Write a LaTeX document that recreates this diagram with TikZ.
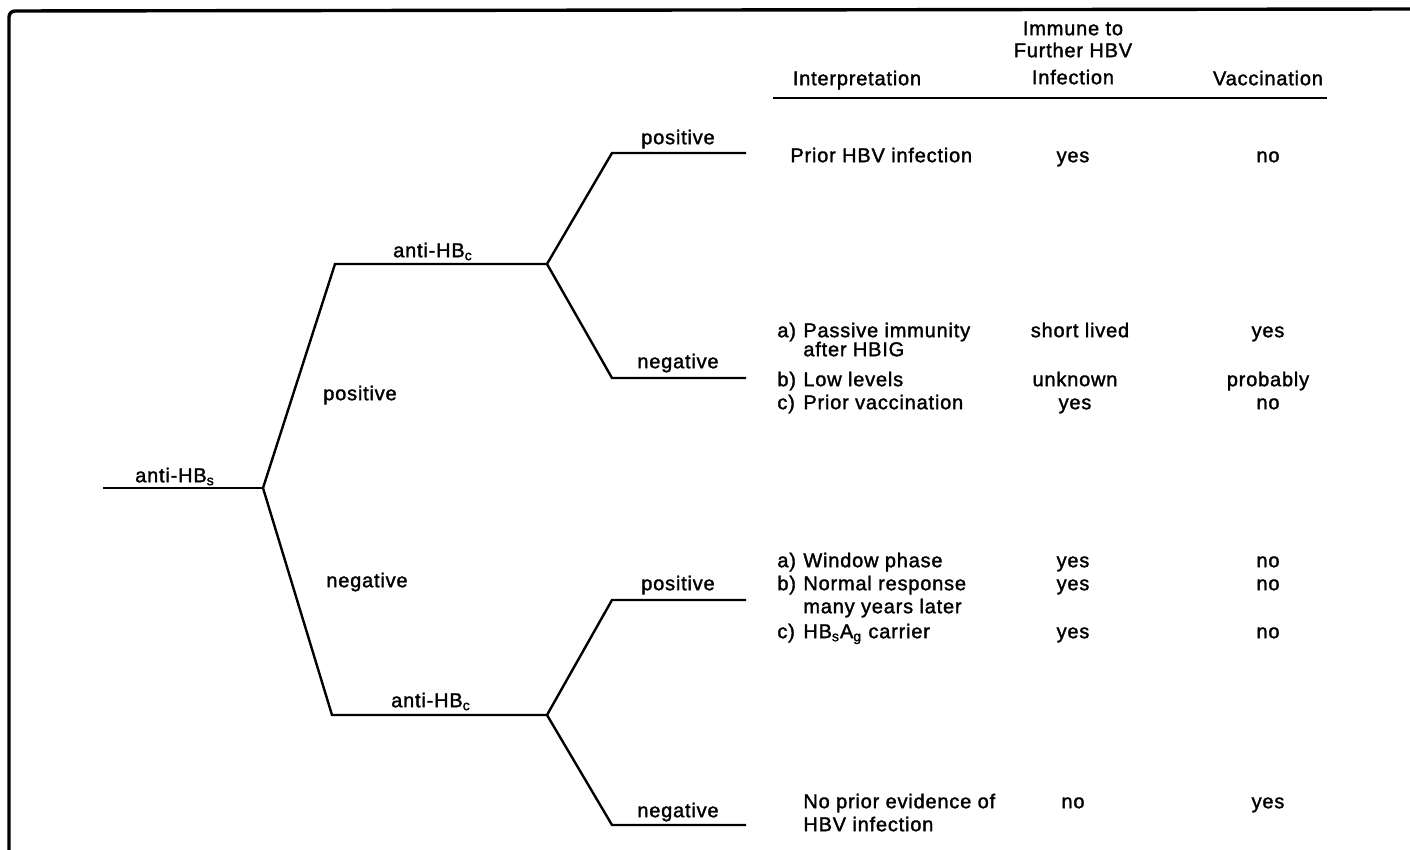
\documentclass[tikz,border=0pt]{standalone}
\usepackage{fontspec}
\setmainfont[LetterSpace=4,FakeBold=1.6]{Liberation Sans}
\begin{document}
\begin{tikzpicture}[x=0.5pt,y=-0.5pt,
  tree/.style={line width=1.2pt,line join=miter},
  lab/.style={inner sep=0pt,text height=7.2pt,text depth=0pt,font=\fontsize{10}{12}\selectfont},
  lw/.style={lab,anchor=west},
  cell/.style={lab,anchor=center},
  frame/.style={line width=1.7pt}]
\useasboundingbox (0,0) rectangle (1410,850);
\draw[frame,rounded corners=3pt] (9,850) -- (9,11) -- (1410,9);
% tree coordinates
\coordinate (r0) at (103,488);
\coordinate (r) at (263,488);
\coordinate (u) at (335,264);
\coordinate (ue) at (547,264);
\coordinate (l) at (332,715);
\coordinate (le) at (547,715);
\coordinate (uu) at (612,153);
\coordinate (uue) at (746,153);
\coordinate (ud) at (612,378);
\coordinate (ude) at (746,378);
\coordinate (lu) at (612,600);
\coordinate (lue) at (746,600);
\coordinate (ld) at (612,825);
\coordinate (lde) at (746,825);
\draw[tree] (r0) -- (r);
\draw[tree] (r) -- (u) -- (ue);
\draw[tree] (r) -- (l) -- (le);
\draw[tree] (ue) -- (uu) -- (uue);
\draw[tree] (ue) -- (ud) -- (ude);
\draw[tree] (le) -- (lu) -- (lue);
\draw[tree] (le) -- (ld) -- (lde);
% tree labels
\node[cell] (tHBs) at (175,475) {anti-HB\textsubscript{s}};
\node[cell] (tHBc1) at (433,250) {anti-HB\textsubscript{c}};
\node[cell] (tHBc2) at (431,700) {anti-HB\textsubscript{c}};
\node[cell] (tpos0) at (360,393) {positive};
\node[cell] (tneg0) at (367,580) {negative};
\node[cell] (tpos1) at (678,137) {positive};
\node[cell] (tneg1) at (678,361) {negative};
\node[cell] (tpos2) at (678,583) {positive};
\node[cell] (tneg2) at (678,810) {negative};
% header
\node[cell] (hInt) at (857,78) {Interpretation};
\node[cell] (hImm1) at (1073,28) {Immune to};
\node[cell] (hImm2) at (1073,50) {Further HBV};
\node[cell] (hImm3) at (1073,77) {Infection};
\node[cell] (hVac) at (1268,78) {Vaccination};
\coordinate (rs) at (773,98);
\coordinate (re) at (1327,98);
\draw[line width=1.2pt] (rs) -- (re);
% row 1
\node[lw] (i1) at (790,155) {Prior HBV infection};
\node[cell] (m1) at (1073,155) {yes};
\node[cell] (v1) at (1268,155) {no};
% row 2
\node[lw] (i2a) at (777,330) {a)};
\node[lw] (i2at) at (803,330) {Passive immunity};
\node[lw] (i2at2) at (803,349) {after HBIG};
\node[lw] (i2b) at (777,379) {b)};
\node[lw] (i2bt) at (803,379) {Low levels};
\node[lw] (i2c) at (777,402) {c)};
\node[lw] (i2ct) at (803,402) {Prior vaccination};
\node[cell] (m2a) at (1080,330) {short lived};
\node[cell] (m2b) at (1075,379) {unknown};
\node[cell] (m2c) at (1075,402) {yes};
\node[cell] (v2a) at (1268,330) {yes};
\node[cell] (v2b) at (1268,379) {probably};
\node[cell] (v2c) at (1268,402) {no};
% row 3
\node[lw] (i3a) at (777,560) {a)};
\node[lw] (i3at) at (803,560) {Window phase};
\node[lw] (i3b) at (777,583) {b)};
\node[lw] (i3bt) at (803,583) {Normal response};
\node[lw] (i3bt2) at (803,606) {many years later};
\node[lw] (i3c) at (777,631) {c)};
\node[lw] (i3ct) at (803,631) {HB\textsubscript{s}A\textsubscript{g} carrier};
\node[cell] (m3a) at (1073,560) {yes};
\node[cell] (m3b) at (1073,583) {yes};
\node[cell] (m3c) at (1073,631) {yes};
\node[cell] (v3a) at (1268,560) {no};
\node[cell] (v3b) at (1268,583) {no};
\node[cell] (v3c) at (1268,631) {no};
% row 4
\node[lw] (i4) at (803,801) {No prior evidence of};
\node[lw] (i4b) at (803,824) {HBV infection};
\node[cell] (m4) at (1073,801) {no};
\node[cell] (v4) at (1268,801) {yes};
\end{tikzpicture}
\end{document}
